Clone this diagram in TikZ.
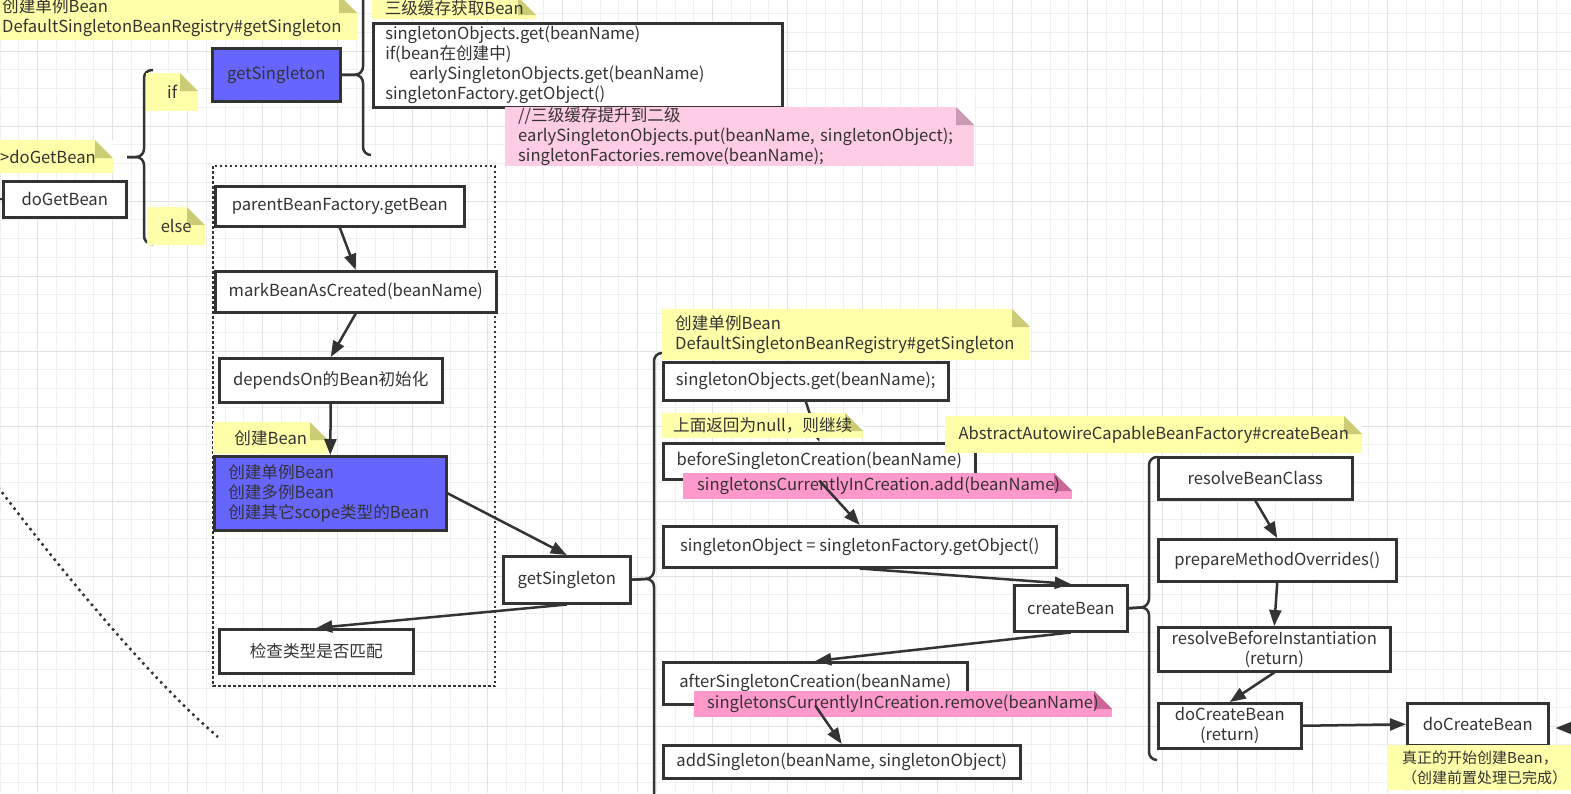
\documentclass[tikz,border=0pt]{standalone}
\usepackage{fontspec}
\setmainfont{Noto Sans CJK SC}
\usepackage{tikz}
\usetikzlibrary{arrows.meta}

\definecolor{ink}{HTML}{333333}
\definecolor{gridln}{HTML}{F0F0F0}
\definecolor{gridmj}{HTML}{E2E2E2}
\definecolor{notey}{HTML}{FFFFAA}
\definecolor{notefold}{HTML}{CCCC77}
\definecolor{pinkl}{HTML}{FFCCE5}
\definecolor{pinklfold}{HTML}{CC99B4}
\definecolor{pinkd}{HTML}{FF99CC}
\definecolor{pinkdfold}{HTML}{CC6699}
\definecolor{blu}{HTML}{6666FF}

\begin{document}
\begin{tikzpicture}[
        x=1pt, y=-1pt,
        >={Triangle[length=16pt,width=12pt]},
        font=\fontsize{16.6}{20}\selectfont,
        box/.style={draw=ink, line width=2.5pt, fill=white, text=ink, inner sep=0pt, anchor=north west},
        bluebox/.style={box, fill=blu},
        note/.style 2 args={fill=#1, text=ink, inner sep=0pt, anchor=north west,
            path picture={
                \fill[white] ([xshift=-18pt]path picture bounding box.north east) -- (path picture bounding box.north east) -- ++(0pt,-18pt) -- cycle;
                \fill[#2] ([xshift=-18pt]path picture bounding box.north east) -- ++(0pt,-18pt) -- ++(18pt,0pt) -- cycle;}},
        ynote/.style={note={notey}{notefold}},
        lpnote/.style={note={pinkl}{pinklfold}},
        dpnote/.style={note={pinkd}{pinkdfold}},
        arr/.style={->, draw=ink, line width=2.5pt},
        brace/.style={draw=ink, line width=2.5pt, rounded corners=8pt},
        gridmin/.style={draw=gridln, line width=1pt},
        gridmaj/.style={draw=gridmj, line width=1pt}
    ]
    \useasboundingbox (0,0) rectangle (1571,793);
    \clip (0,0) rectangle (1571,793);
    \fill[white] (0,0) rectangle (1571,793);
    \foreach \k in {0,...,84} \draw[gridmin] (18.75*\k,0) -- (18.75*\k,793);
    \foreach \k in {0,...,42} \draw[gridmin] (0,13.5+18.75*\k) -- (1571,13.5+18.75*\k);
    \foreach \k in {0,...,20} \draw[gridmaj] (37.5+75*\k,0) -- (37.5+75*\k,793);
    \foreach \k in {0,...,10} \draw[gridmaj] (0,51+75*\k) -- (1571,51+75*\k);

    \coordinate (arcA) at (-2,487);
    \coordinate (arcB) at (218,737);
    \draw[ink, line width=2.5pt, dash pattern=on 2.5pt off 4pt] (arcA) .. controls (60,569) and (150,679) .. (arcB);

    \draw[ink, line width=2.5pt, dash pattern=on 2.5pt off 2.5pt] (213,166) rectangle (495,686);

    \node[bluebox, minimum width=128pt, minimum height=53pt] (gs1) at (211,47) {getSingleton};
    \node[box, minimum width=123pt, minimum height=36pt] (dgb) at (2,180) {doGetBean};
    \node[box, text width=385pt, inner xsep=12pt, minimum height=84pt, align=left] (cache) at (372,22)
        {singletonObjects.get(beanName)\\if(bean在创建中)\\\hspace*{24pt}earlySingletonObjects.get(beanName)\\singletonFactory.getObject()};
    \node[box, minimum width=249pt, minimum height=40pt] (pbf) at (214,185) {parentBeanFactory.getBean};
    \node[box, minimum width=281pt, minimum height=41pt] (mark) at (214,270) {markBeanAsCreated(beanName)};
    \node[box, minimum width=223pt, minimum height=44pt] (dep) at (218,357) {dependsOn的Bean初始化};
    \node[bluebox, text width=204pt, inner xsep=14pt, minimum height=74pt, align=left] (mk) at (213,455)
        {创建单例Bean\\创建多例Bean\\创建其它scope类型的Bean};
    \node[box, minimum width=194pt, minimum height=44pt] (chk) at (218,628) {检查类型是否匹配};
    \node[box, minimum width=127pt, minimum height=47pt] (gs2) at (502,555) {getSingleton};
    \node[box, minimum width=285pt, minimum height=38pt] (sog) at (662,361) {singletonObjects.get(beanName);};
    \node[box, minimum width=312pt, minimum height=36pt] (bef) at (662,442) {beforeSingletonCreation(beanName)};
    \node[box, minimum width=393pt, minimum height=41pt] (soget) at (662,525) {singletonObject = singletonFactory.getObject()};
    \node[box, minimum width=113pt, minimum height=46pt] (cb) at (1013,584) {createBean};
    \node[box, minimum width=304pt, minimum height=42pt] (aft) at (662,661) {afterSingletonCreation(beanName)};
    \node[box, minimum width=357pt, minimum height=33pt] (add) at (662,744) {addSingleton(beanName, singletonObject)};
    \node[box, minimum width=194pt, minimum height=42pt] (rbc) at (1157,456) {resolveBeanClass};
    \node[box, minimum width=238pt, minimum height=42pt] (pmo) at (1157,538) {prepareMethodOverrides()};
    \node[box, minimum width=232pt, minimum height=44pt, align=center] (rbi) at (1157,626) {resolveBeforeInstantiation\\(return)};
    \node[box, minimum width=143pt, minimum height=45pt, align=center] (dcr) at (1157,702) {doCreateBean\\(return)};
    \node[box, minimum width=141pt, minimum height=42pt] (dcb) at (1406,702) {doCreateBean};

    \coordinate (b1top) at (363,-20);
    \coordinate (b1bot) at (371,155);
    \draw[brace] (b1top) -- (gs1.east -| b1top) -- (gs1.east);
    \draw[brace] (gs1.east) -- (gs1.east -| b1top) -- (b1top |- b1bot) -- (b1bot);
    \coordinate (b2tip) at (127,157);
    \draw[brace] (153,70) -- (144,70) -- (144,157) -- (b2tip);
    \draw[brace] (b2tip) -- (144,157) -- (144,244) -- (153,244);
    \draw[brace] (663,353) -- (654,353) -- (654,578.5) -- (gs2.east);
    \draw[brace] (gs2.east) -- (654,578.5) -- (654,820);
    \draw[brace] (1158,457) -- (1149,457) -- (1149,607) -- (cb.east);
    \draw[brace] (cb.east) -- (1149,607) -- (1149,760) -- (1157,760);
    \coordinate (stub) at (-5,198);
    \draw[ink, line width=2pt] (stub) -- (dgb.west);

    \node[ynote, text width=343pt, inner xsep=12pt, minimum height=45pt, align=left] (n1) at (-10,-5)
        {创建单例Bean\\DefaultSingletonBeanRegistry\#getSingleton};
    \node[ynote, minimum width=164pt, minimum height=22pt] (n2) at (372,-3) {三级缓存获取Bean};
    \node[lpnote, text width=443pt, inner xsep=13pt, minimum height=59pt, align=left] (p1) at (505,107)
        {//三级缓存提升到二级\\earlySingletonObjects.put(beanName, singletonObject);\\singletonFactories.remove(beanName);};
    \node[ynote, text width=105pt, inner xsep=8pt, minimum height=33pt, align=left] (ndg) at (-8,140) {>doGetBean};
    \node[ynote, minimum width=52pt, minimum height=38pt] (nif) at (146,73) {if};
    \node[ynote, minimum width=58pt, minimum height=38pt] (nelse) at (147,207) {else};
    \node[ynote, minimum width=115pt, minimum height=32pt] (ncb) at (213,422) {创建Bean};
    \node[ynote, text width=342pt, inner xsep=13pt, minimum height=51pt, align=left] (n3) at (662,309)
        {创建单例Bean\\DefaultSingletonBeanRegistry\#getSingleton};
    \node[ynote, minimum width=417pt, minimum height=37pt] (nabs) at (945,416) {AbstractAutowireCapableBeanFactory\#createBean};
    \node[ynote, text width=172pt, inner xsep=15pt, minimum height=45pt, align=left, font=\fontsize{15}{20}\selectfont] (nreal) at (1387,745)
        {真正的开始创建Bean，\\（创建前置处理已完成）};
    \node[dpnote, text width=361pt, inner xsep=14pt, minimum height=26pt, align=left] (padd) at (683,473)
        {singletonsCurrentlyInCreation.add(beanName)};
    \node[dpnote, text width=392pt, inner xsep=13pt, minimum height=26pt, align=left] (prem) at (694,691)
        {singletonsCurrentlyInCreation.remove(beanName)};

    \draw[arr] (pbf.south) -- (mark.north);
    \draw[arr] (mark.south) -- (dep.north);
    \draw[arr] (dep.south) -- (mk.north);
    \draw[arr] (mk.east) -- (gs2.north);
    \draw[arr] (gs2.south) -- (chk.north);
    \draw[arr] (sog.south) -- (bef.north);
    \draw[arr] (bef.south) -- (soget.north);
    \draw[arr] (soget.south) -- (cb.north);
    \draw[arr] (cb.south) -- (aft.north);
    \draw[arr] (aft.south) -- (add.north);
    \draw[arr] (rbc.south) -- (pmo.north);
    \draw[arr] (pmo.south) -- (rbi.north);
    \draw[arr] (rbi.south) -- (dcr.north);
    \draw[arr] (dcr.east) -- (dcb.west);
    \coordinate (rin) at (1600,728);
    \draw[arr, shorten >=6pt] (rin) -- (dcb.east |- rin);

    \node[ynote, minimum width=201pt, minimum height=25pt] (nnull) at (662,413) {上面返回为null，则继续};
\end{tikzpicture}
\end{document}
